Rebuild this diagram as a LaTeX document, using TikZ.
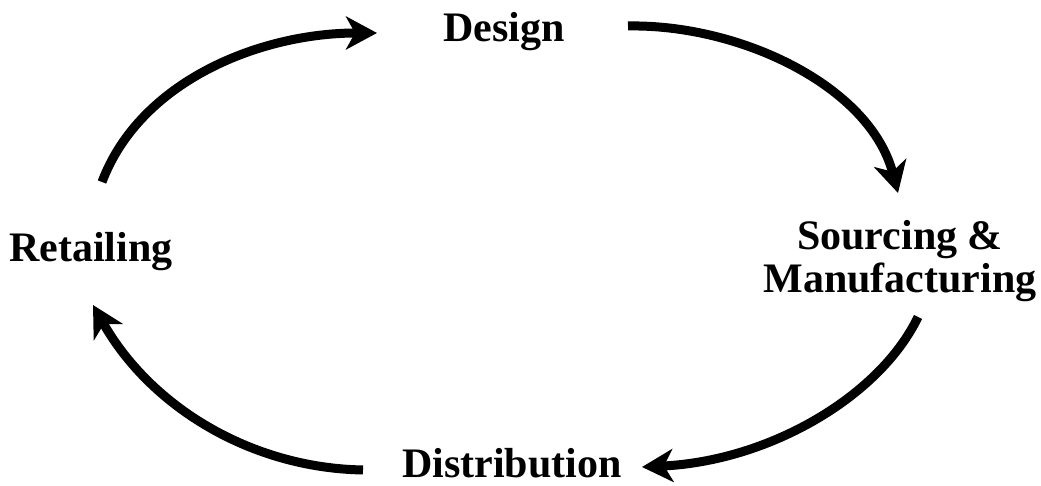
\documentclass[tikz,border=0pt]{standalone}
\usepackage{fontspec}
\setmainfont{Liberation Serif}
\usetikzlibrary{arrows.meta}
\begin{document}
\begin{tikzpicture}[x=1pt,y=1pt,
  lbl/.style={font=\fontsize{42}{43}\selectfont\bfseries, inner sep=0pt, align=center},
  cyc/.style={line width=9pt, line cap=butt, -{Stealth[length=31pt,width=33pt,inset=9pt]}}]
\useasboundingbox (0,0) rectangle (1041,486);
\node[lbl, anchor=base] (design) at (504,444) {Design};
\node[lbl, anchor=base] (retail) at (91,224) {Retailing};
\node[lbl, anchor=base] (distr) at (512,8) {Distribution};
\node[lbl, anchor=base] (source) at (900,236) {Sourcing \&};
\node[lbl, anchor=base] (manuf) at (900,193) {Manufacturing};
\coordinate (a1s) at (102,304);
\coordinate (a1e) at (377,453);
\coordinate (a2s) at (628,460);
\coordinate (a2e) at (898,293);
\coordinate (a3s) at (918,169);
\coordinate (a3e) at (642,19);
\coordinate (a4s) at (363,16);
\coordinate (a4e) at (93,181);
\draw[cyc] (a1s) .. controls (140,405) and (260,453) .. (a1e);
\draw[cyc] (a2s) .. controls (740,462) and (870,400) .. (a2e);
\draw[cyc] (a3s) .. controls (880,90) and (770,25) .. (a3e);
\draw[cyc] (a4s) .. controls (250,18) and (150,80) .. (a4e);
\end{tikzpicture}
\end{document}
